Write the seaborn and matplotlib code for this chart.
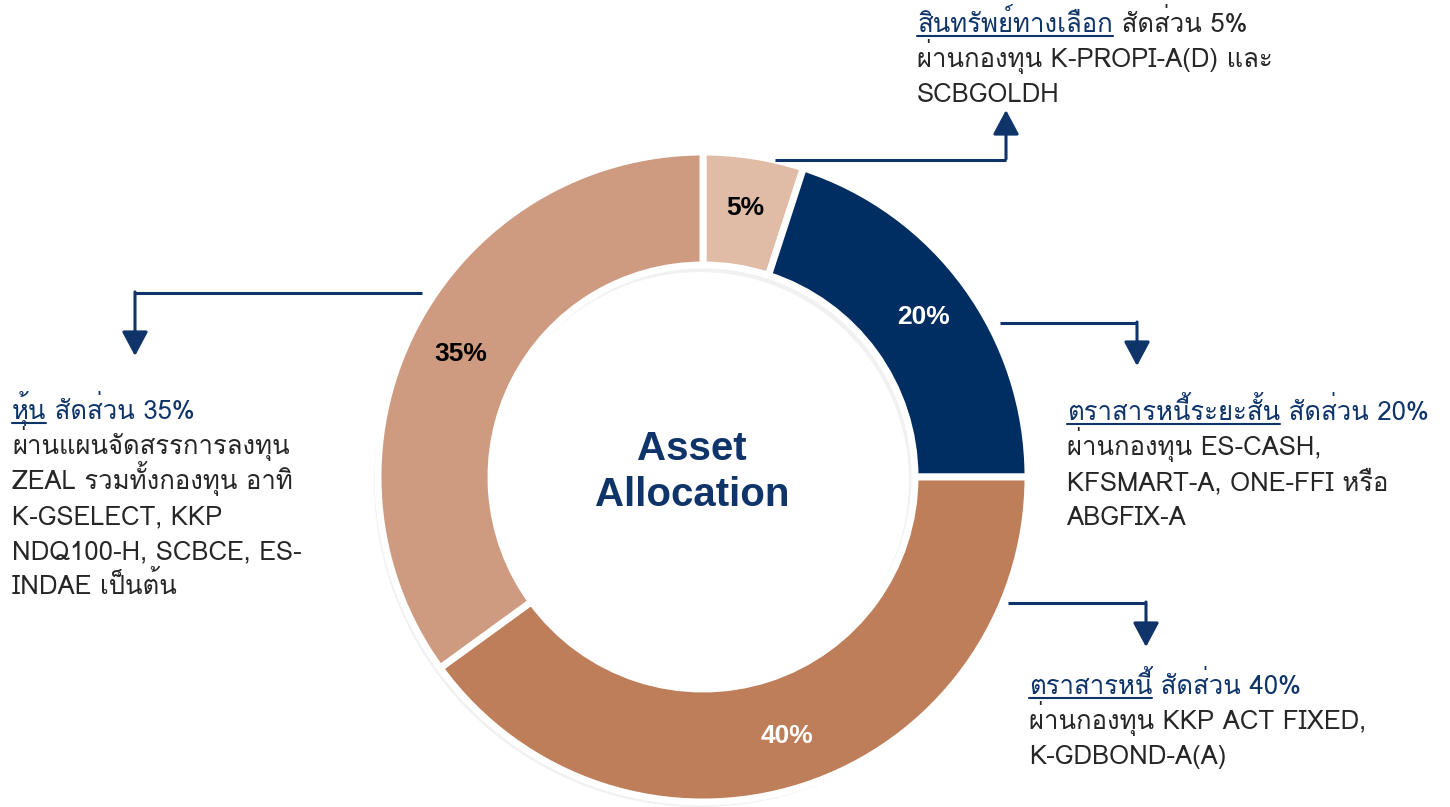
import matplotlib
matplotlib.use("Agg")
import matplotlib.pyplot as plt
import seaborn as sns
from matplotlib import font_manager
from matplotlib.ft2font import FT2Font
from matplotlib.patches import Wedge

# ---- data ----
categories = ["สินทรัพย์ทางเลือก", "ตราสารหนี้ระยะสั้น", "ตราสารหนี้", "หุ้น"]
shares = [5, 20, 40, 35]
slice_colors = ["#E0BBA6", "#002D62", "#BF7E5A", "#CE9B80"]
pct_colors = ["black", "white", "white", "black"]
center_title = "Asset\nAllocation"

# annotation blocks: heading (underlined) + rest of first line, then body lines
block_heads = ["สินทรัพย์ทางเลือก", "ตราสารหนี้ระยะสั้น", "ตราสารหนี้", "หุ้น"]
block_tails = [" สัดส่วน 5%", " สัดส่วน 20%", " สัดส่วน 40%", " สัดส่วน 35%"]
block_bodies = [
    ["ผ่านกองทุน K-PROPI-A(D) และ", "SCBGOLDH"],
    ["ผ่านกองทุน ES-CASH,", "KFSMART-A, ONE-FFI หรือ", "ABGFIX-A"],
    ["ผ่านกองทุน KKP ACT FIXED,", "K-GDBOND-A(A)"],
    ["ผ่านแผนจัดสรรการลงทุน", "ZEAL รวมทั้งกองทุน อาทิ", "K-GSELECT, KKP",
     "NDQ100-H, SCBCE, ES-", "INDAE เป็นต้น"],
]

# ---- layout (pixel coords, y measured from top) ----
W, H = 1450, 807
cx, cy, R, ring = 703, 477, 325, 113
block_xy = [(917, 32), (1067, 420), (1029, 694), (12, 419)]
line_gap = 35
tail_navy = [False, True, True, True]
# connector paths: start, corner, tip
connectors = [
    [(775, 160), (1006, 160), (1006, 110)],
    [(1000, 323), (1137, 323), (1137, 366)],
    [(1008, 603), (1146, 603), (1146, 647)],
    [(422, 293), (135, 293), (135, 356)],
]

NAVY = "#0E346A"
DARK = "#262626"

sns.set_theme(style="white")


def find_thai_font():
    for f in font_manager.fontManager.ttflist:
        try:
            if 0x0E01 in FT2Font(f.fname).get_charmap():
                return f.name
        except Exception:
            continue
    return None


thai = find_thai_font()
fams = ([thai] if thai else []) + ["DejaVu Sans"]
plt.rcParams["font.family"] = fams


def Y(y):
    return H - y


fig = plt.figure(figsize=(W / 100, H / 100), dpi=100)
ax = fig.add_axes([0, 0, 1, 1])

# soft shadow behind ring
ax.add_patch(Wedge((cx - 3, Y(cy) - 4), R + 1, 0, 360, width=ring + 4,
                   facecolor="#c8c8c8", alpha=0.25, lw=0, zorder=0))

wedges, _, pcts = ax.pie(
    shares, colors=slice_colors, startangle=90, counterclock=False,
    center=(cx, Y(cy)), radius=R, autopct="%.0f%%", pctdistance=0.837,
    wedgeprops=dict(width=ring, edgecolor="white", linewidth=5),
    textprops=dict(fontsize=19, fontweight="bold", family="Liberation Sans"),
    frame=True,
)
for t, c in zip(pcts, pct_colors):
    t.set_color(c)

ax.text(cx - 11, Y(cy) + 5, center_title, ha="center", va="center",
        fontsize=29, fontweight="bold", color=NAVY, family="Liberation Sans",
        linespacing=1.25)

ax.set_xlim(0, W)
ax.set_ylim(0, H)
ax.set_aspect("equal")
ax.axis("off")

# connectors with arrow heads
for (p0, p1, p2) in connectors:
    ax.plot([p0[0], p1[0]], [Y(p0[1]), Y(p1[1])], color=NAVY, lw=2.2,
            solid_capstyle="butt")
    ax.annotate("", xy=(p2[0], Y(p2[1])), xytext=(p1[0], Y(p1[1]) + 1),
                arrowprops=dict(arrowstyle="-|>,head_length=0.75,head_width=0.4",
                                color=NAVY, lw=2.2, shrinkA=0, shrinkB=0,
                                mutation_scale=20))

# annotation text blocks
fs = 18.5
fig.canvas.draw()
renderer = fig.canvas.get_renderer()
for (x, y), head, tail, body, navy in zip(block_xy, block_heads, block_tails,
                                         block_bodies, tail_navy):
    th = ax.text(x, Y(y), head, fontsize=fs, color=NAVY, ha="left",
                 va="baseline")
    bb = th.get_window_extent(renderer)
    ax.plot([bb.x0, bb.x1], [Y(y + 4), Y(y + 4)], color=NAVY, lw=1.5)
    ax.text(bb.x1, Y(y), tail, fontsize=fs, color=NAVY if navy else DARK,
            ha="left", va="baseline")
    for i, line in enumerate(body, start=1):
        ax.text(x, Y(y + i * line_gap), line, fontsize=fs, color=DARK,
                ha="left", va="baseline")

fig.savefig("out.png", dpi=100)
